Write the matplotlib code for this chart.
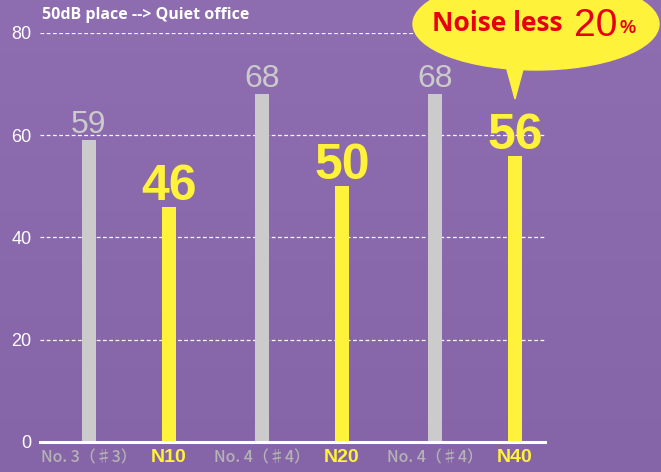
import numpy as np
import matplotlib.pyplot as plt
from matplotlib.patches import Ellipse, Polygon

# data
groups = [0, 1, 2]
ref_labels = ["No. 3（♯3）", "No. 4（♯4）", "No. 4（♯4）"]
ref_values = [59, 68, 68]
new_labels = ["N10", "N20", "N40"]
new_values = [46, 50, 56]
yticks = [0, 20, 40, 60, 80]

GRAY = "#CBCBCB"
YELLOW = "#FFF23A"
W, H = 661, 472

fig = plt.figure(figsize=(W / 100, H / 100), dpi=100)

# purple gradient background
bg = fig.add_axes([0, 0, 1, 1], zorder=-10)
grad = np.linspace(0, 1, 256).reshape(-1, 1)
top = np.array([0x8E, 0x6D, 0xB0]) / 255
bot = np.array([0x86, 0x64, 0xA8]) / 255
img = top + (bot - top) * grad[:, :, None]
bg.imshow(img, aspect="auto", extent=[0, 1, 0, 1])
bg.axis("off")

ax = fig.add_axes([40 / W, 1 - 442 / H, 505 / W, 409 / H])
ax.patch.set_alpha(0)

off = 80 / 173
bw = 14 / 173
xg = np.array(groups, dtype=float)
xn = xg + off

ax.bar(xg, ref_values, width=bw, color=GRAY, zorder=3)
ax.bar(xn, new_values, width=bw, color=YELLOW, zorder=3)

for x, v in zip(xg, ref_values):
    ax.annotate(str(v), (x, v), xytext=(0, 5), textcoords="offset points",
                ha="center", va="baseline", color=GRAY, fontsize=23,
                family="Liberation Sans", zorder=4)
for x, v in zip(xn, new_values):
    ax.annotate(str(v), (x, v), xytext=(0, 5), textcoords="offset points",
                ha="center", va="baseline", color=YELLOW, fontsize=36,
                fontweight="bold", family="Liberation Sans", zorder=4)

ax.set_xlim(-49 / 173, 456 / 173)
ax.set_ylim(0, 80)
ax.set_yticks(yticks)
ax.set_yticklabels([str(t) for t in yticks], color="white", fontsize=13,
                   family="Liberation Sans")
ax.tick_params(axis="y", length=0, pad=6)
for t in yticks[1:]:
    ax.axhline(t, color="white", lw=0.9, ls=(0, (3, 2)), zorder=1)
ax.axhline(0, color="white", lw=2.2, zorder=5, clip_on=False)

ticks = []
labels = []
for a, b, la, lb in zip(xg, xn, ref_labels, new_labels):
    ticks += [a, b]
    labels += [la, lb]
ax.set_xticks(ticks)
ax.set_xticklabels(labels)
ax.tick_params(axis="x", length=0, pad=5)
for i, lab in enumerate(ax.get_xticklabels()):
    if i % 2 == 0:
        lab.set_color("#B4B4B4")
        lab.set_fontsize(11.5)
        lab.set_fontweight("medium")
        lab.set_family(["Noto Sans CJK JP", "DejaVu Sans"])
    else:
        lab.set_color(YELLOW)
        lab.set_fontsize(14)
        lab.set_fontweight("bold")
        lab.set_family("Liberation Sans")

for s in ax.spines.values():
    s.set_visible(False)

fig.text(42 / W, 1 - 15 / H, "50dB place --> Quiet office", color="white",
         fontsize=11.5, fontweight="bold", family="Open Sans", va="center")

# speech bubble
def fx(px):
    return px / W

def fy(py):
    return 1 - py / H

ell = Ellipse((fx(536), fy(24)), 246 / W, 92 / H, transform=fig.transFigure,
              color=YELLOW, zorder=20)
fig.patches.append(ell)
tail = Polygon([(fx(505), fy(62)), (fx(525), fy(62)), (fx(515), fy(99))],
               closed=True, transform=fig.transFigure, color=YELLOW, zorder=20)
fig.patches.append(tail)

RED = "#E60012"
fig.text(fx(432), fy(31), "Noise less", color=RED, fontsize=19,
         fontweight="bold", family="Open Sans", va="baseline", zorder=21)
fig.text(fx(574), fy(36), "20", color=RED, fontsize=28,
         family="Liberation Sans", va="baseline", zorder=21)
fig.text(fx(619), fy(33), "%", color=RED, fontsize=13, fontweight="bold",
         family="Liberation Sans", va="baseline", zorder=21)

fig.savefig("out.png", dpi=100)
